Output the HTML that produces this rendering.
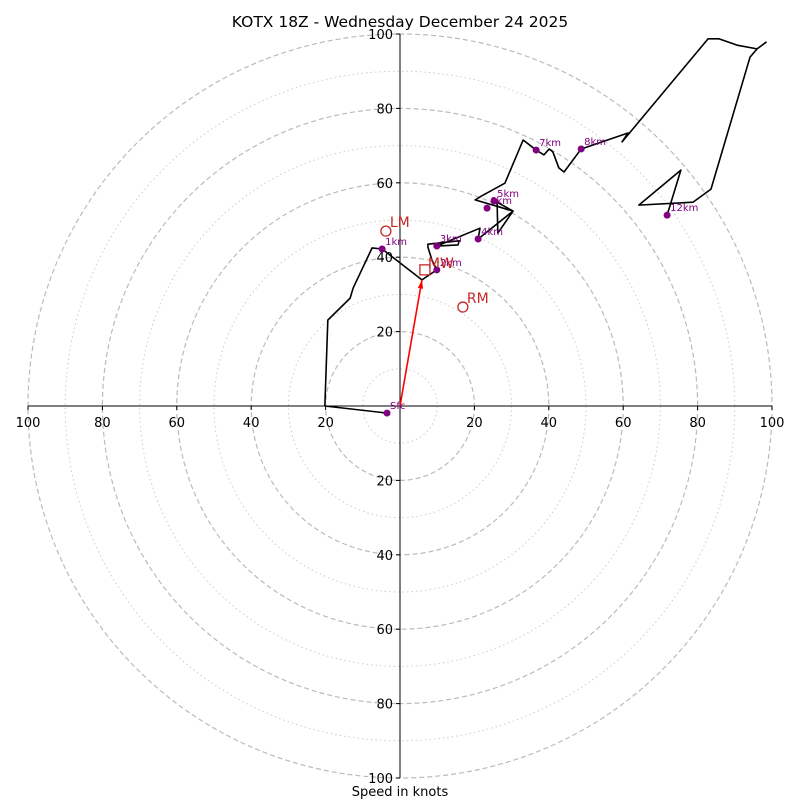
<!DOCTYPE html>
<html><head><meta charset="utf-8"><style>
body{margin:0;background:#fff}
svg{display:block;font-family:"DejaVu Sans","Liberation Sans",sans-serif}
</style></head><body>
<svg id="c" width="800" height="800">
<text x="400" y="27" text-anchor="middle" font-size="15.5">KOTX 18Z - Wednesday December 24 2025</text>
<text x="400" y="796" text-anchor="middle" font-size="13">Speed in knots</text>
</svg>
<script>
const ringValues=[10,20,30,40,50,60,70,80,90,100];
const tickValues=[20,40,60,80,100];
const pathU=[-3.5,-20.2,-19.4,-13.4,-12.6,-7.5,-4.8,5.9,9.9,8.6,7.5,7.5,15.9,15.6,9.9,21.5,21.0,30.4,26.1,26.3,30.4,20.2,22.0,28.2,33.1,36.6,38.7,40.1,41.1,42.7,44.1,48.7,61.3,59.7,82.8,85.8,90.6,96.0,98.4,96.0,94.1,83.6,78.8,64.2,75.5,71.8];
const pathV=[-1.9,0,23.1,29.0,31.7,42.5,42.2,33.9,36.6,39.2,42.7,43.5,44.4,43.3,43.0,47.8,44.9,52.4,54.8,46.5,52.4,55.4,56.5,59.9,71.5,68.8,67.5,69.1,68.3,64.0,62.9,69.1,73.4,71.0,98.7,98.7,97.0,96.0,97.8,96.0,93.8,58.3,54.8,54.0,63.4,51.3];
const ptLabels=["Sfc","1km","2km","3km","4km","5km","6km","7km","8km","12km"];
const ptU=[-3.5,-4.8,9.9,9.9,21.0,25.3,23.4,36.6,48.7,71.8];
const ptV=[-1.9,42.2,36.6,43.0,44.9,55.1,53.2,68.8,69.1,51.3];
const motionLabels=["LM","RM"];
const motionU=[-3.8,16.9];
const motionV=[47.0,26.6];
const mwU=6.7, mwV=36.6;
const cx=400, cy=406, k=3.72;
const X=u=>cx+u*k, Y=v=>cy-v*k;
const svg=document.getElementById('c');
const NS='http://www.w3.org/2000/svg';
function mk(t,a){const e=document.createElementNS(NS,t);for(const n in a)e.setAttribute(n,a[n]);svg.appendChild(e);return e;}
ringValues.forEach(r=>{
 const e=mk('circle',{cx:cx,cy:cy,r:r*k,fill:'none',stroke:r%20==0?'#bbb':'#ccc','stroke-width':r%20==0?1.2:1,'stroke-dasharray':r%20==0?'5,3':'1.5,3'});
 
 
});
let ax=mk('line',{x1:X(-100),y1:cy,x2:X(100),y2:cy,stroke:'#000','stroke-width':1});


let ay=mk('line',{x1:cx,y1:Y(100),x2:cx,y2:Y(-100),stroke:'#000','stroke-width':1});


tickValues.forEach(t=>{
 [-1,1].forEach(s=>{
  mk('line',{x1:X(s*t),y1:cy,x2:X(s*t),y2:cy+4,stroke:'#000'});
  let tx=mk('text',{x:X(s*t),y:cy+21,'text-anchor':'middle','font-size':13});
  tx.textContent=t;
  
  
  mk('line',{x1:cx-4,y1:Y(s*t),x2:cx,y2:Y(s*t),stroke:'#000'});
  let ty=mk('text',{x:cx-7,y:Y(s*t)+5,'text-anchor':'end','font-size':13});
  ty.textContent=t;
  
  
 });
});
let pl=mk('polyline',{points:pathU.map((u,i)=>X(u)+','+Y(pathV[i])).join(' '),fill:'none',stroke:'#000','stroke-width':1.6,'stroke-linejoin':'round'});


const ex=X(5.9), ey=Y(33.9);
let ar=mk('line',{x1:cx,y1:cy,x2:ex,y2:ey,stroke:'red','stroke-width':1.6});


const ang=Math.atan2(ey-cy,ex-cx);
const hx=(d,a)=>ex-d*Math.cos(ang+a), hy=(d,a)=>ey-d*Math.sin(ang+a);
mk('polygon',{points:`${ex},${ey} ${hx(9,0.3)},${hy(9,0.3)} ${hx(9,-0.3)},${hy(9,-0.3)}`,fill:'red'});
ptLabels.forEach((l,i)=>{
 let d=mk('circle',{cx:X(ptU[i]),cy:Y(ptV[i]),r:3.5,fill:'purple'});
 
 
 let t=mk('text',{x:X(ptU[i])+3,y:Y(ptV[i])-4,'font-size':10,fill:'purple'});
 t.textContent=l;
 
 
});
motionLabels.forEach((l,i)=>{
 let c=mk('circle',{cx:X(motionU[i]),cy:Y(motionV[i]),r:5,fill:'none',stroke:'#c62828','stroke-width':1.3});
 
 
 let t=mk('text',{x:X(motionU[i])+4,y:Y(motionV[i])-4,'font-size':14,fill:'#c62828'});
 t.textContent=l;
 
 
});
let sq=mk('rect',{x:X(mwU)-5,y:Y(mwV)-5,width:10,height:10,fill:'none',stroke:'#c62828','stroke-width':1.3});


let mt=mk('text',{x:X(mwU)+3,y:Y(mwV)-2,'font-size':14,fill:'#c62828'});
mt.textContent='MW';


</script>
</body></html>
